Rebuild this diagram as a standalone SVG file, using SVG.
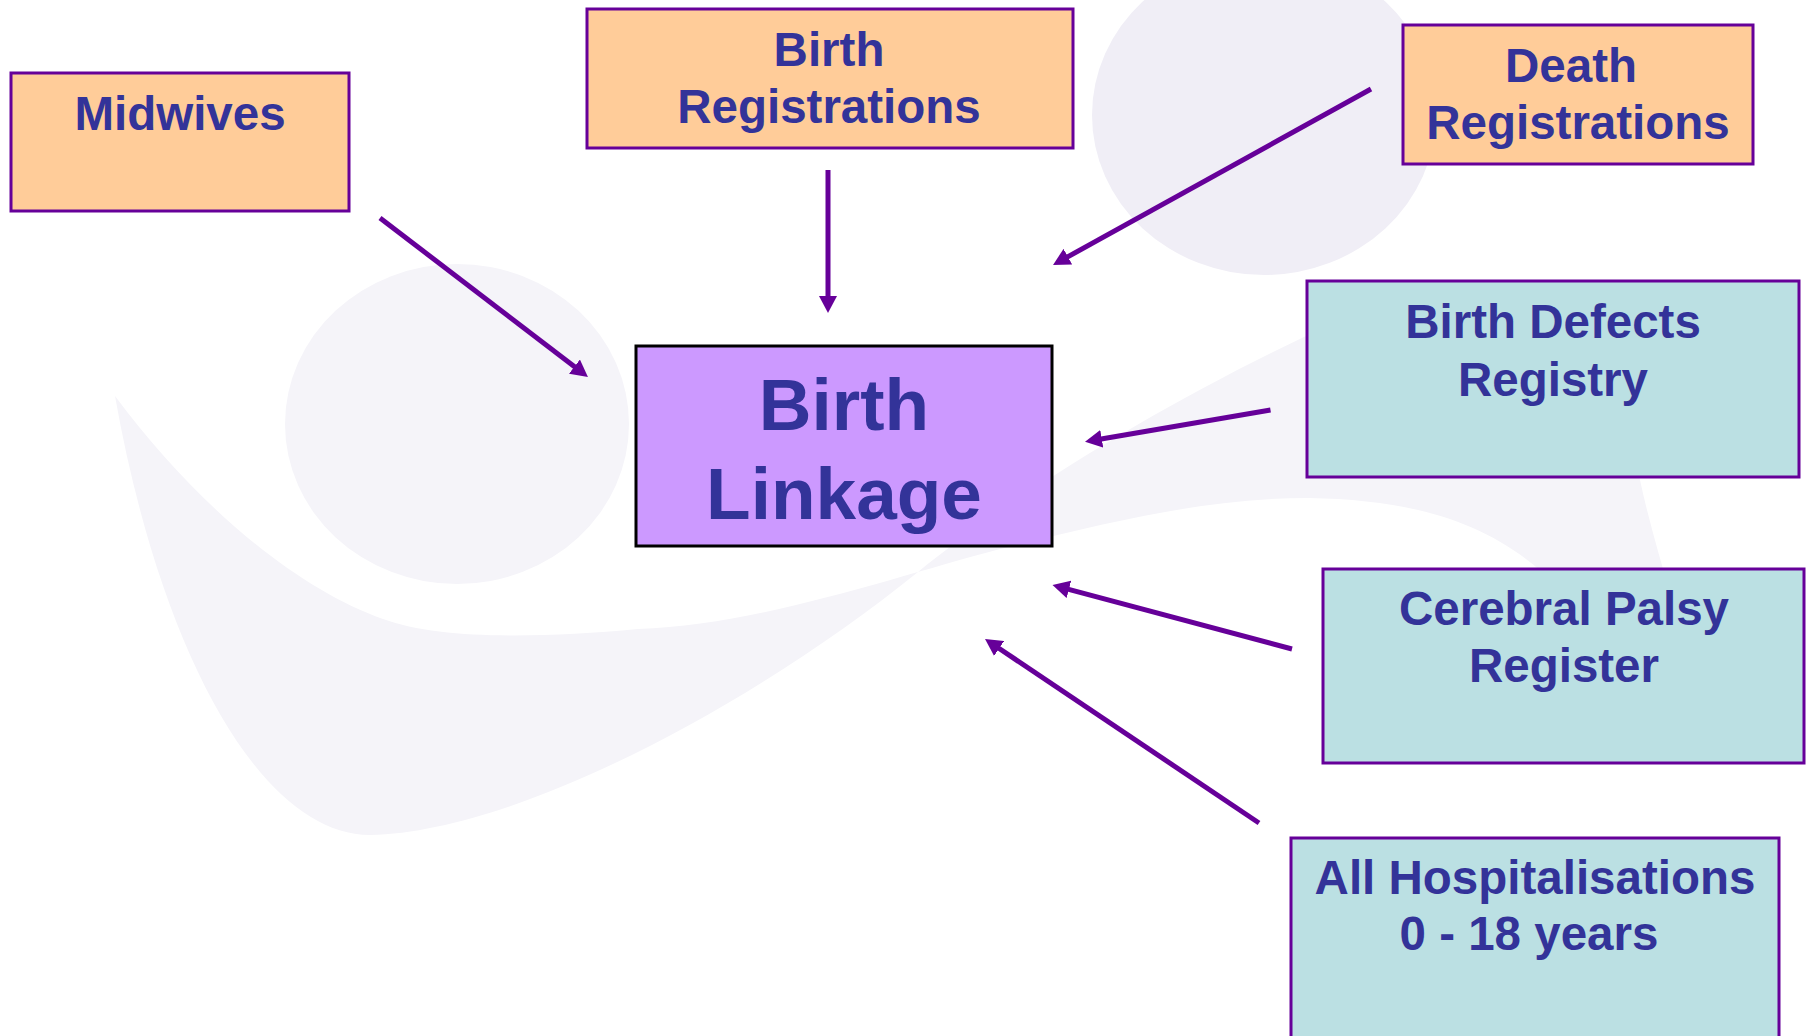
<svg xmlns="http://www.w3.org/2000/svg" width="1808" height="1036" viewBox="0 0 1808 1036">
<defs>
<style>
.t{font-family:"Liberation Sans",Arial,sans-serif;font-weight:bold;fill:#333399;text-anchor:middle}
.s{font-size:47.5px}
.b{font-size:73px}
.org{fill:#FFCC99;stroke:#660099;stroke-width:3}
.teal{fill:#BBE0E3;stroke:#660099;stroke-width:3}
.cen{fill:#CC99FF;stroke:#000;stroke-width:3}
.c{stroke:#660099;stroke-width:5;fill:none;marker-end:url(#ah)}
</style>
<marker id="ah" markerUnits="userSpaceOnUse" markerWidth="18" markerHeight="18" refX="8" refY="9" orient="auto">
<path d="M0,0 L17,9 L0,18 z" fill="#660099"/>
</marker>
</defs>
<rect width="1808" height="1036" fill="#fff"/>
<g id="background">
<ellipse cx="1264" cy="115" rx="172" ry="160" fill="#F0EEF6"/>
<ellipse cx="457" cy="424" rx="172" ry="160" fill="#F5F4F9"/>
<path d="M115,396 C160,650 260,835 370,835 C520,832 760,700 918,572 C1000,505 1150,410 1304,337 C1480,255 1610,330 1640,480 C1655,550 1680,620 1700,700 L1590,700 L1560,590 C1500,525 1420,500 1309,498 C1200,498 1100,525 1000,549 C900,575 760,625 638,629 C540,638 440,640 383,619 C300,590 200,510 115,396 Z" fill="#F5F4F9"/>
</g>
<g id="connectors">
<line class="c" x1="380" y1="218" x2="580.8" y2="371.5"/>
<line class="c" x1="828" y1="170" x2="828" y2="304"/>
<line class="c" x1="1371" y1="89" x2="1060.9" y2="260.6"/>
<line class="c" x1="1270.5" y1="410" x2="1093.9" y2="440.2"/>
<line class="c" x1="1292" y1="649" x2="1061.2" y2="587.3"/>
<line class="c" x1="1259" y1="823" x2="992.5" y2="644"/>
</g>
<g id="midwives">
<rect class="org" x="11" y="73" width="338" height="138"/>
<text class="t s" x="180" y="130">Midwives</text>
</g>
<g id="birth-registrations">
<rect class="org" x="587" y="9" width="486" height="139"/>
<text class="t s" x="829" y="66">Birth</text>
<text class="t s" x="829" y="123">Registrations</text>
</g>
<g id="death-registrations">
<rect class="org" x="1403" y="25" width="350" height="139"/>
<text class="t s" x="1571" y="82">Death</text>
<text class="t s" x="1578" y="138.6">Registrations</text>
</g>
<g id="birth-linkage">
<rect class="cen" x="636" y="346" width="416" height="200"/>
<text class="t b" x="844" y="430">Birth</text>
<text class="t b" x="844" y="519">Linkage</text>
</g>
<g id="birth-defects-registry">
<rect class="teal" x="1307" y="281" width="492" height="196"/>
<text class="t s" x="1553" y="337.5">Birth Defects</text>
<text class="t s" x="1553" y="395.7">Registry</text>
</g>
<g id="cerebral-palsy-register">
<rect class="teal" x="1323" y="569" width="481" height="194"/>
<text class="t s" x="1564" y="625.3">Cerebral Palsy</text>
<text class="t s" x="1564" y="682">Register</text>
</g>
<g id="all-hospitalisations">
<rect class="teal" x="1291" y="838" width="488" height="210"/>
<text class="t s" x="1535" y="893.5">All Hospitalisations</text>
<text class="t s" x="1529" y="949.5">0 - 18 years</text>
</g>
</svg>
